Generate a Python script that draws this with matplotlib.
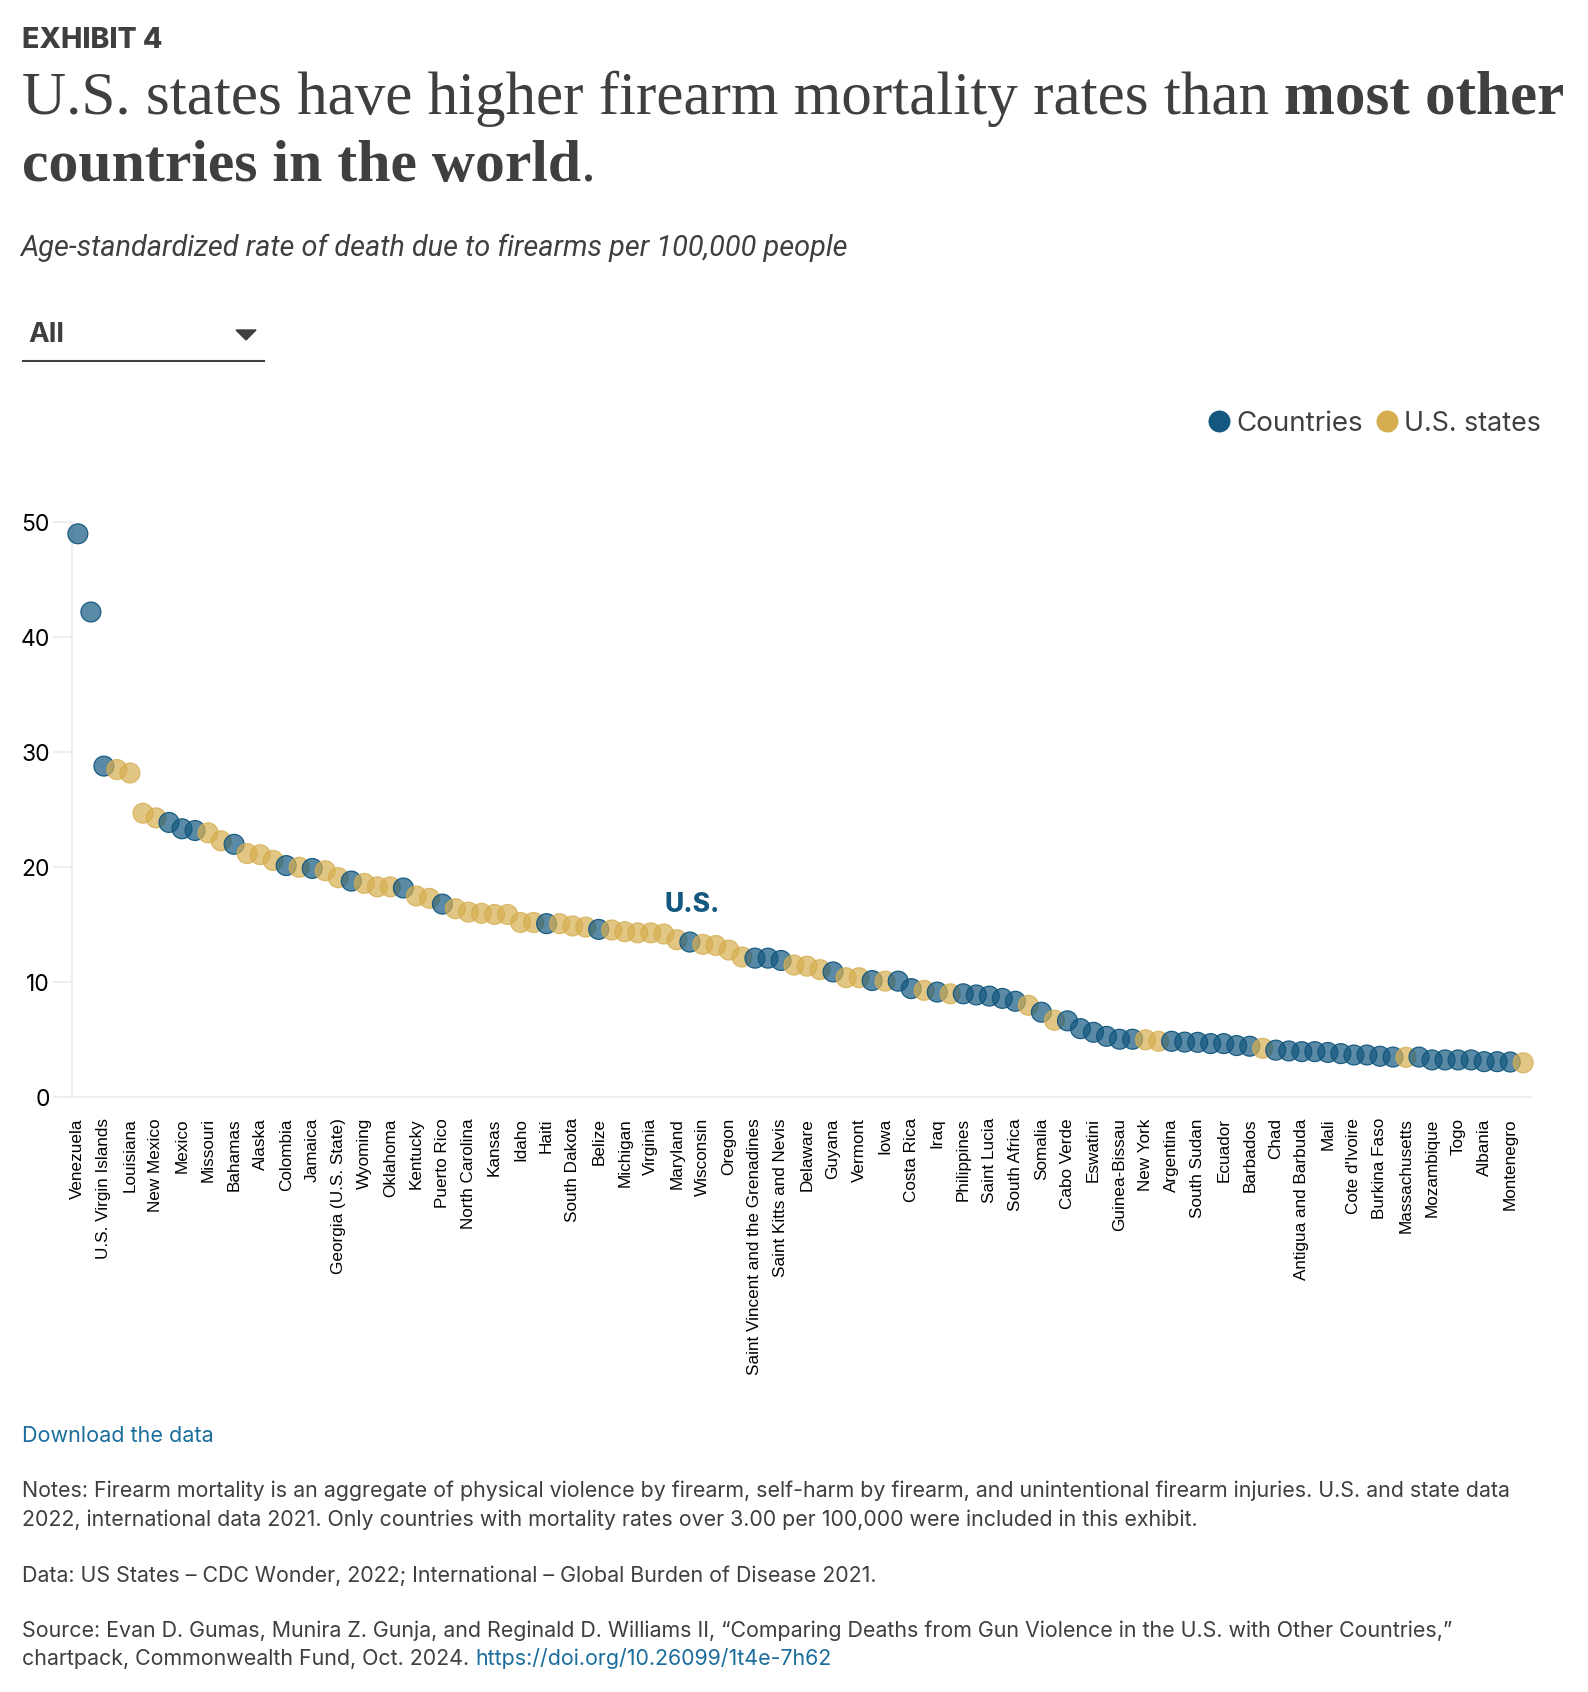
import matplotlib
matplotlib.use('Agg')
import matplotlib.pyplot as plt
from matplotlib.colors import to_rgba
from matplotlib.lines import Line2D

labels = ['Venezuela', 'U.S. Virgin Islands', 'Louisiana', 'New Mexico', 'Mexico', 'Missouri', 'Bahamas', 'Alaska',
          'Colombia', 'Jamaica', 'Georgia (U.S. State)', 'Wyoming', 'Oklahoma', 'Kentucky', 'Puerto Rico',
          'North Carolina', 'Kansas', 'Idaho', 'Haiti', 'South Dakota', 'Belize', 'Michigan', 'Virginia', 'Maryland',
          'Wisconsin', 'Oregon', 'Saint Vincent and the Grenadines', 'Saint Kitts and Nevis', 'Delaware', 'Guyana',
          'Vermont', 'Iowa', 'Costa Rica', 'Iraq', 'Philippines', 'Saint Lucia', 'South Africa', 'Somalia',
          'Cabo Verde', 'Eswatini', 'Guinea-Bissau', 'New York', 'Argentina', 'South Sudan', 'Ecuador', 'Barbados',
          'Chad', 'Antigua and Barbuda', 'Mali', "Cote d'Ivoire", 'Burkina Faso', 'Massachusetts', 'Mozambique',
          'Togo', 'Albania', 'Montenegro']

# rates in rank order, only every other point has a label on the axis
rates = [49.0, 42.2, 28.8, 28.5, 28.2, 24.7, 24.3, 23.9, 23.35, 23.2, 23.0, 22.3, 22.0, 21.2, 21.1, 20.6,
         20.15, 20.0, 19.9, 19.7, 19.1, 18.8, 18.6, 18.3, 18.3, 18.2, 17.5, 17.3, 16.8, 16.4, 16.1, 16.0,
         15.9, 15.9, 15.2, 15.2, 15.1, 15.1, 14.9, 14.8, 14.6, 14.55, 14.4, 14.3, 14.3, 14.2, 13.7, 13.5,
         13.3, 13.2, 12.8, 12.2, 12.1, 12.1, 11.9, 11.5, 11.4, 11.1, 10.9, 10.4, 10.4, 10.15, 10.1, 10.1,
         9.45, 9.3, 9.15, 9.0, 9.0, 8.9, 8.8, 8.6, 8.35, 8.0, 7.4, 6.7, 6.65, 5.97, 5.65, 5.3,
         5.05, 5.05, 5.0, 4.87, 4.87, 4.8, 4.78, 4.67, 4.67, 4.5, 4.44, 4.26, 4.1, 4.03, 3.97, 3.97,
         3.9, 3.8, 3.68, 3.68, 3.57, 3.5, 3.48, 3.5, 3.25, 3.25, 3.25, 3.25, 3.1, 3.1, 3.07, 3.0]
state_ranks = [3, 4, 5, 6, 10, 11, 13, 14, 15, 17, 19, 20, 22, 23, 24, 26, 27, 29, 30, 31, 32, 33, 34, 35,
               37, 38, 39, 41, 42, 43, 44, 45, 46, 48, 49, 50, 51, 55, 56, 57, 59, 60, 62, 65, 67, 73, 75,
               82, 83, 91, 102, 111]

blue = '#14587f'
gold = '#d6ae50'
ink = '#3f3f3f'
link = '#1a6d9c'
W, H = 1588, 1692
foot_size = 15.4


def fx(px):
    return px / W


def fy(px):
    return 1 - px / H


fig = plt.figure(figsize=(W / 100, H / 100), dpi=100, facecolor='white')

# plot area, pixel box
left, right, y50, y0 = 72, 1531, 522.3, 1097.3
ax = fig.add_axes([fx(left), fy(y0), fx(right - left), (y0 - y50) / H])
ax.set_ylim(0, 50)
ax.set_xlim(-0.45, 111.6)

colors = [gold if i in state_ranks else blue for i in range(len(rates))]
faces = [to_rgba(c, 0.7) for c in colors]
edges = [to_rgba(c, 0.95 if c == blue else 0.8) for c in colors]
ax.scatter(range(len(rates)), rates, s=205, facecolors=faces, edgecolors=edges, linewidths=0.9,
           clip_on=False, zorder=3)

for s in ['top', 'right']:
    ax.spines[s].set_visible(False)
for s in ['left', 'bottom']:
    ax.spines[s].set_color('#eeeeee')
    ax.spines[s].set_linewidth(1.6)

ax.set_yticks([0, 10, 20, 30, 40, 50])
ax.tick_params(axis='y', length=14, width=1.6, color='#eeeeee', labelsize=16.5, labelcolor='black', pad=2)
for t in ax.get_yticklabels():
    t.set_fontfamily('Inter')
ax.set_xticks(range(0, 2 * len(labels), 2))
ax.set_xticklabels(labels, rotation=90, fontsize=12.3, family='Liberation Sans', color='black')
ax.tick_params(axis='x', length=0, pad=15)

# header
fig.text(fx(22), fy(47.5), 'EXHIBIT 4', fontsize=20.5, family='Inter', weight='heavy', color=ink)
fig.text(fx(22), fy(114), 'U.S. states have higher firearm mortality rates than', fontsize=44,
         family='Liberation Serif', color=ink)
fig.text(fx(1284), fy(114), 'most other', fontsize=44, family='Liberation Serif', weight='bold', color=ink)
t0 = fig.text(fx(22), fy(181.5), 'countries in the world', fontsize=43, family='Liberation Serif', weight='bold',
              color=ink)
fig.canvas.draw()
fig.text(t0.get_window_extent().x1 / W, fy(181.5), '.', fontsize=43, family='Liberation Serif', color=ink)
fig.text(fx(20), fy(256), 'Age-standardized rate of death due to firearms per 100,000 people', fontsize=20.8,
         family='Roboto', style='italic', color=ink)

# dropdown
fig.text(fx(28), fy(341.7), 'All', fontsize=20, family='Inter', weight='bold', color=ink)
fig.add_artist(Line2D([fx(22.5), fx(264)], [fy(361), fy(361)], color=ink, lw=1.5))
fig.add_artist(plt.Polygon([[fx(236), fy(330)], [fx(256), fy(330)], [fx(246), fy(340)]], color=ink,
                           transform=fig.transFigure))

# legend
fig.add_artist(Line2D([fx(1219)], [fy(420.7)], marker='o', ms=15.8, mew=0, color=blue, ls='none'))
fig.text(fx(1236), fy(431.3), 'Countries', fontsize=20, family='Inter', color=ink)
fig.add_artist(Line2D([fx(1387)], [fy(420.7)], marker='o', ms=15.8, mew=0, color=gold, ls='none'))
fig.text(fx(1404), fy(431.3), 'U.S. states', fontsize=19.3, family='Inter', color=ink)

fig.text(fx(664), fy(912), 'U.S.', fontsize=19, family='Inter', weight='heavy', color=blue)

# footer
fig.text(fx(22), fy(1441.7), 'Download the data', fontsize=15.5, family='Inter', color=link)
fig.text(fx(22), fy(1497), 'Notes: Firearm mortality is an aggregate of physical violence by firearm, self-harm by firearm, '
         'and unintentional firearm injuries. U.S. and state data', fontsize=foot_size, family='Inter', color=ink)
fig.text(fx(22), fy(1526), '2022, international data 2021. Only countries with mortality rates over 3.00 per 100,000 '
         'were included in this exhibit.', fontsize=foot_size, family='Inter', color=ink)
fig.text(fx(22), fy(1581.7), 'Data: US States \u2013 CDC Wonder, 2022; International \u2013 Global Burden of Disease 2021.',
         fontsize=foot_size, family='Inter', color=ink)
fig.text(fx(22), fy(1637), 'Source: Evan D. Gumas, Munira Z. Gunja, and Reginald D. Williams II, \u201cComparing Deaths '
         'from Gun Violence in the U.S. with Other Countries,\u201d', fontsize=foot_size, family='Inter', color=ink)
t2 = fig.text(fx(22), fy(1665), 'chartpack, Commonwealth Fund, Oct. 2024. ', fontsize=foot_size, family='Inter', color=ink)
fig.canvas.draw()
fig.text(t2.get_window_extent().x1 / W, fy(1665), 'https://doi.org/10.26099/1t4e-7h62', fontsize=foot_size,
         family='Inter', color=link)

fig.savefig('out.png', dpi=100)
